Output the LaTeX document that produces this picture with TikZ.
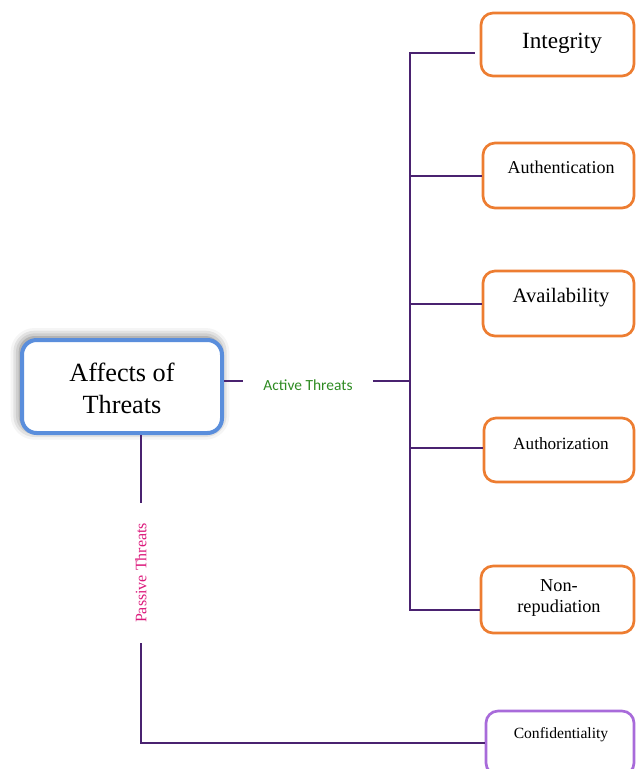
\documentclass[tikz,border=0pt]{standalone}
\usepackage{fontspec}
\setmainfont{Liberation Serif}
\newfontfamily\labelsans{Carlito}
\usetikzlibrary{shadows.blur}

\definecolor{boxorange}{HTML}{ED7D31}
\definecolor{boxblue}{HTML}{5A8EDC}
\definecolor{boxviolet}{HTML}{A86BDA}
\definecolor{wire}{HTML}{4A2270}
\definecolor{activegreen}{HTML}{2E8B22}
\definecolor{passivepink}{HTML}{DC1A7C}

\tikzset{
  leaf/.style={draw=boxorange, line width=2pt, rounded corners=9pt, fill=white,
    inner sep=0pt, minimum height=48.75pt},
  leaftext/.style={inner sep=0pt, align=center},
  wireline/.style={draw=wire, line width=1.5pt},
}

\begin{document}
\begin{tikzpicture}[x=0.75pt, y=-0.75pt]
\useasboundingbox (0,0) rectangle (636,769);
\clip (0,0) rectangle (636,769);

% central topic
\node[draw=boxblue, line width=3pt, rounded corners=11pt, fill=white,
      minimum width=150pt, minimum height=69.75pt, inner sep=0pt,
      blur shadow={shadow xshift=-1.5pt, shadow yshift=2pt, shadow blur radius=7pt,
                   shadow opacity=60, shadow blur extra rounding=6pt}]
      (main) at (122,386.5) {};
\node[leaftext, font=\fontsize{19.7pt}{24pt}\selectfont] (maintext) at (122,388) {Affects of\\Threats};

% active threat targets
\node[leaf, minimum width=114.75pt, minimum height=47.25pt] (integ) at (557.5,44.5) {};
\node[leaftext, font=\fontsize{17.4pt}{20pt}\selectfont] (integt) at (562,43.5) {Integrity};

\node[leaf, minimum width=113.25pt] (auth) at (558.5,175.5) {};
\node[leaftext, font=\fontsize{13.5pt}{16pt}\selectfont] (autht) at (561,167) {Authentication};

\node[leaf, minimum width=113.25pt] (avail) at (558.5,303.5) {};
\node[leaftext, font=\fontsize{15.4pt}{18pt}\selectfont] (availt) at (561,298) {Availability};

\node[leaf, minimum width=112.5pt, minimum height=48pt] (authz) at (559,450) {};
\node[leaftext, font=\fontsize{12.9pt}{15pt}\selectfont] (authzt) at (561,443.5) {Authorization};

\node[leaf, minimum width=114.75pt, minimum height=50.25pt] (nonrep) at (557.5,599.5) {};
\node[leaftext, font=\fontsize{13.7pt}{15.75pt}\selectfont] (nonrept) at (559,598) {Non-\\repudiation};

% passive threat target
\node[leaf, draw=boxviolet, minimum width=111pt, minimum height=48pt] (conf) at (560,743) {};
\node[leaftext, font=\fontsize{11.7pt}{14pt}\selectfont] (conft) at (561,734.5) {Confidentiality};

% branch labels
\node[inner xsep=15pt, inner ysep=0pt, text=activegreen,
      font=\labelsans\fontsize{11.6pt}{14pt}\selectfont] (act) at (308,385) {Active Threats};
\node[rotate=90, inner xsep=15pt, inner ysep=0pt, text=passivepink,
      font=\fontsize{12pt}{14pt}\selectfont] (pas) at (141,573) {Passive Threats};

% trunk of the active branch
\coordinate (hub) at (410,381);
\coordinate (top) at (410,53);
\coordinate (bot) at (410,610);

\draw[wireline] (main.east |- hub) -- (act.west |- hub);
\draw[wireline] (act.east |- hub) -- (hub);
\draw[wireline, shorten <=3.75pt] (integ.west |- top) -- (top) -- (bot) -- (nonrep.west |- bot);
\draw[wireline] (auth.west -| top) -- (auth.west);
\draw[wireline] (avail.west -| top) -- (avail.west);
\draw[wireline] (authz.west -| top) ++(0,-2) -- ([yshift=1.5pt]authz.west);

% passive branch
\draw[wireline] (main.south -| pas.east) -- (pas.east);
\draw[wireline] (pas.west) -- (pas.west |- conf.west) -- (conf.west);
\end{tikzpicture}
\end{document}
